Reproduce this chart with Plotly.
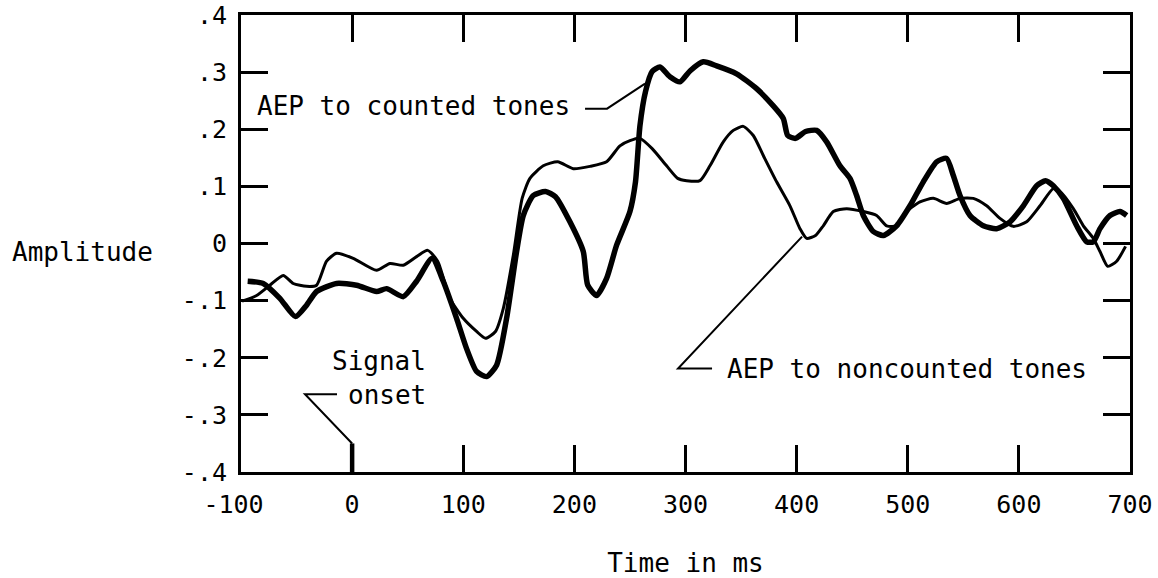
import plotly.graph_objects as go

# AEP to counted tones (thick)
counted_t = [-94, -80, -65, -51, -41, -32, -14, 4, 22, 31, 46, 58, 72, 82, 94, 103, 112, 121, 130, 139,
             148, 154, 163, 174, 183, 196, 208, 212, 220, 229, 238, 250, 255, 259, 264, 270, 277, 286,
             295, 304, 316, 328, 346, 364, 379, 388, 392, 399, 408, 418, 427, 439, 448, 454, 460, 469,
             478, 490, 502, 514, 526, 535, 541, 547, 556, 568, 580, 592, 604, 616, 624, 631, 640, 652,
             661, 667, 673, 682, 691, 697]
counted_amp = [-0.066, -0.070, -0.096, -0.128, -0.108, -0.084, -0.070, -0.073, -0.084, -0.079, -0.093,
               -0.066, -0.026, -0.066, -0.131, -0.184, -0.224, -0.233, -0.213, -0.131, -0.014, 0.049,
               0.084, 0.091, 0.082, 0.038, -0.014, -0.073, -0.091, -0.061, -0.003, 0.056, 0.108, 0.206,
               0.266, 0.301, 0.309, 0.292, 0.283, 0.302, 0.318, 0.311, 0.297, 0.271, 0.241, 0.219, 0.189,
               0.184, 0.196, 0.198, 0.178, 0.136, 0.114, 0.084, 0.049, 0.021, 0.014, 0.031, 0.066, 0.108,
               0.143, 0.149, 0.119, 0.084, 0.049, 0.031, 0.026, 0.038, 0.066, 0.101, 0.110, 0.101, 0.079,
               0.031, 0.003, 0.003, 0.026, 0.049, 0.056, 0.049]

# AEP to noncounted tones (thin)
noncounted_t = [-99, -86, -74, -62, -53, -41, -32, -23, -14, 1, 22, 34, 46, 58, 68, 77, 88, 100, 112, 120,
                129, 136, 145, 153, 160, 172, 185, 199, 214, 229, 241, 250, 259, 270, 283, 293, 301, 313,
                322, 334, 343, 352, 361, 370, 382, 394, 403, 409, 417, 424, 433, 445, 460, 472, 481, 490,
                499, 511, 523, 535, 547, 559, 571, 583, 595, 607, 619, 631, 637, 649, 658, 667, 673, 680,
                688, 696]
noncounted_amp = [-0.101, -0.091, -0.073, -0.056, -0.070, -0.075, -0.073, -0.031, -0.017, -0.026, -0.047,
                  -0.035, -0.038, -0.023, -0.012, -0.031, -0.096, -0.131, -0.154, -0.166, -0.154, -0.114,
                  -0.021, 0.079, 0.114, 0.136, 0.143, 0.131, 0.135, 0.143, 0.171, 0.180, 0.184, 0.166,
                  0.136, 0.114, 0.110, 0.110, 0.136, 0.178, 0.198, 0.205, 0.189, 0.154, 0.108, 0.066,
                  0.026, 0.009, 0.014, 0.031, 0.056, 0.061, 0.056, 0.049, 0.031, 0.031, 0.056, 0.073,
                  0.079, 0.070, 0.079, 0.079, 0.066, 0.044, 0.030, 0.038, 0.066, 0.096, 0.091, 0.061,
                  0.031, 0.009, -0.014, -0.040, -0.031, -0.005]

x_ticks = [-100, 0, 100, 200, 300, 400, 500, 600, 700]
x_labels = ["-100\u00a0", "0", "100", "200", "300", "400", "500", "600", "700"]
y_ticks = [0.4, 0.3, 0.2, 0.1, 0, -0.1, -0.2, -0.3, -0.4]
y_labels = [".4", ".3", ".2", ".1", "0", "-.1", "-.2", "-.3", "-.4"]

FONT = "DejaVu Sans Mono"
fig = go.Figure()
fig.add_trace(go.Scatter(x=noncounted_t, y=noncounted_amp, mode="lines",
                         line=dict(color="black", width=3, shape="spline", smoothing=0.6),
                         name="AEP to noncounted tones", showlegend=False))
fig.add_trace(go.Scatter(x=counted_t, y=counted_amp, mode="lines",
                         line=dict(color="black", width=5.5, shape="spline", smoothing=0.6),
                         name="AEP to counted tones", showlegend=False))

line = dict(color="black", width=2)
# counted leader
fig.add_shape(type="path", path="M 209.6,0.236 L 229.4,0.236 L 263.6,0.280", line=line, xref="x", yref="y")
# noncounted leader
fig.add_shape(type="path", path="M 323.9,-0.219 L 293.3,-0.219 L 404.9,0.012", line=line, xref="x", yref="y")
# signal onset leader
fig.add_shape(type="path", path="M -13.6,-0.264 L -42.4,-0.264 L 0,-0.350", line=line, xref="x", yref="y")
fig.add_shape(type="line", x0=0, x1=0, y0=-0.350, y1=-0.4, line=dict(color="black", width=4.5), xref="x", yref="y")

tf = dict(family=FONT, size=26, color="black")
tickf = dict(family=FONT, size=25, color="black")
fig.add_annotation(x=-87, y=0.240, text="AEP to counted tones", showarrow=False, xanchor="left", font=tf)
fig.add_annotation(x=335.6, y=-0.219, text="AEP to noncounted tones", showarrow=False, xanchor="left", font=tf)
fig.add_annotation(x=68.4, y=-0.205, text="Signal", showarrow=False, xanchor="right", font=tf)
fig.add_annotation(x=68.4, y=-0.266, text="onset", showarrow=False, xanchor="right", font=tf)
fig.add_annotation(x=-231 / 889, y=(472 - 252) / 457, xref="paper", yref="paper", text="Amplitude",
                   showarrow=False, xanchor="left", font=tf)

fig.update_xaxes(range=[-100, 700], tickvals=x_ticks, ticktext=x_labels, ticks="inside", ticklen=27,
                 tickwidth=2.5, tickcolor="black", showline=True, linecolor="black", linewidth=3,
                 mirror="ticks", showgrid=False, zeroline=False, tickfont=tickf, ticklabelstandoff=8,
                 ticklabeloverflow="allow", automargin=False,
                 title=dict(text="Time in ms", font=tf, standoff=37))
fig.update_yaxes(range=[-0.4, 0.4], tickvals=y_ticks, ticktext=y_labels, ticks="inside", ticklen=27,
                 tickwidth=2.5, tickcolor="black", showline=True, linecolor="black", linewidth=3,
                 mirror="ticks", showgrid=False, zeroline=False, tickfont=tickf, ticklabelstandoff=6,
                 ticklabeloverflow="allow", automargin=False)
fig.update_layout(width=1158, height=578, margin=dict(l=241, r=28, t=15, b=106),
                  plot_bgcolor="white", paper_bgcolor="white", showlegend=False)
fig.write_html("out.html", config={"displayModeBar": False})

# remove the browser's default 8px body margin so the figure fills the window exactly
with open("out.html", "r", encoding="utf-8") as f:
    html = f.read()
html = html.replace("<body>", '<body style="margin:0;overflow:hidden">', 1)
with open("out.html", "w", encoding="utf-8") as f:
    f.write(html)
